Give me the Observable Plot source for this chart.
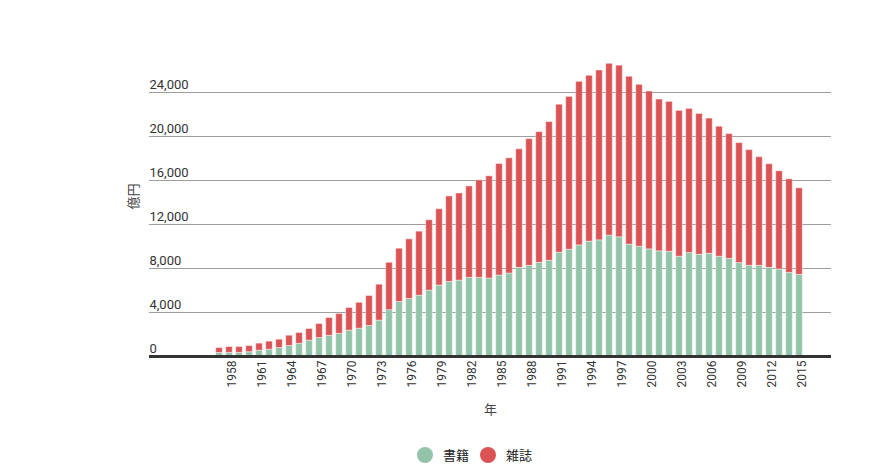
<!DOCTYPE html>
<html><head><meta charset="utf-8">
<script src="https://cdn.jsdelivr.net/npm/d3@7"></script>
<script src="https://cdn.jsdelivr.net/npm/@observablehq/plot@0.6"></script>
<style>
body{margin:0;background:#fff;font-family:Roboto,"Noto Sans CJK JP",sans-serif;}
#wrap{position:relative;width:872px;height:471px;overflow:hidden;}
#legend{position:absolute;top:447px;left:417px;display:flex;align-items:center;font-size:13px;color:#222;font-family:"Noto Sans CJK JP",sans-serif;line-height:16px;}
.item{display:flex;align-items:center;margin-right:11px;}
.sw{width:16px;height:16px;border-radius:50%;display:inline-block;margin-right:10px;}
</style></head><body><div id="wrap"><div id="chart"></div><div id="legend"></div></div>
<script>
const years = [1957,1958,1959,1960,1961,1962,1963,1964,1965,1966,1967,1968,1969,1970,1971,1972,1973,1974,1975,1976,1977,1978,1979,1980,1981,1982,1983,1984,1985,1986,1987,1988,1989,1990,1991,1992,1993,1994,1995,1996,1997,1998,1999,2000,2001,2002,2003,2004,2005,2006,2007,2008,2009,2010,2011,2012,2013,2014,2015];
const books = [320,330,330,390,530,620,770,950,1150,1440,1680,1880,2060,2350,2530,2770,3260,4210,4950,5230,5530,5990,6450,6780,6900,7150,7150,7090,7360,7540,8060,8240,8520,8700,9430,9710,10100,10440,10560,10990,10840,10170,9980,9740,9560,9520,9070,9400,9250,9340,9070,8880,8490,8240,8240,8060,7910,7600,7420];
const magazines = [450,530,530,560,640,730,760,940,990,1060,1270,1620,1800,2060,2350,2730,3270,4310,4850,5420,5820,6400,6940,7770,7920,8310,8860,9290,10140,10480,10780,11520,11880,12610,13460,13890,14870,15080,15440,15620,15600,15260,14720,14350,13800,13630,13260,13110,12800,12290,11820,11340,10910,10520,9880,9420,8930,8510,7870];
const seriesNames = ["書籍", "雑誌"];
const seriesColors = ["#93c4a9", "#dc5356"];
const xTicks = [1958,1961,1964,1967,1970,1973,1976,1979,1982,1985,1988,1991,1994,1997,2000,2003,2006,2009,2012,2015];
const yTicks = [0,4000,8000,12000,16000,20000,24000];

const rows = [];
years.forEach((yr, i) => {
  rows.push({year: yr, series: seriesNames[0], y1: 0, y2: books[i]});
  rows.push({year: yr, series: seriesNames[1], y1: books[i], y2: books[i] + magazines[i]});
});

const chart = Plot.plot({
  width: 872, height: 430,
  marginLeft: 149, marginRight: 41, marginTop: 48, marginBottom: 74,
  style: {fontFamily: 'Roboto, "Noto Sans CJK JP", sans-serif', background: "#fff"},
  x: {domain: [1950, 2018.2], axis: null},
  y: {domain: [0, 28000], axis: null},
  color: {domain: seriesNames, range: seriesColors},
  marks: [
    Plot.ruleY(yTicks.filter(d => d > 0), {stroke: "#9e9e9e", strokeWidth: 1}),
    Plot.rectY(rows, {x1: d => d.year - 0.33, x2: d => d.year + 0.33, y1: "y1", y2: "y2", fill: "series", stroke: "#fff", strokeOpacity: 0.45, strokeWidth: 1}),
    Plot.ruleY([0], {stroke: "#333", strokeWidth: 3}),
    Plot.text(yTicks, {y: d => d, text: d => d3.format(",")(d), frameAnchor: "left", textAnchor: "start", dy: -8, fill: "#333", fontSize: 13}),
    Plot.axisX(xTicks, {tickRotate: -90, tickSize: 0, tickPadding: 4, dx: 3, tickFormat: d => String(d), fontSize: 12, fill: "#333", label: null}),
    Plot.text(["年"], {frameAnchor: "bottom", lineAnchor: "middle", dy: 53, fontSize: 13, fill: "#444", fontFamily: '"Noto Sans CJK JP", sans-serif'}),
    Plot.text(["億円"], {frameAnchor: "left", dx: -16, dy: 7, rotate: -90, fontSize: 13, fill: "#444", fontFamily: '"Noto Sans CJK JP", sans-serif'})
  ]
});
document.getElementById("chart").appendChild(chart);

const legend = document.getElementById("legend");
seriesNames.forEach((name, i) => {
  const item = document.createElement("span");
  item.className = "item";
  const sw = document.createElement("span");
  sw.className = "sw";
  sw.style.background = seriesColors[i];
  item.appendChild(sw);
  item.appendChild(document.createTextNode(name));
  legend.appendChild(item);
});
</script></body></html>
